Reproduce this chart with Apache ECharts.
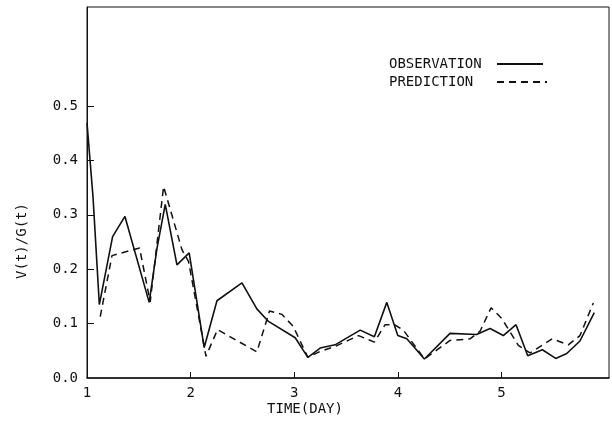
<!DOCTYPE html>
<html>
<head>
<meta charset="utf-8">
<script src="https://cdn.jsdelivr.net/npm/echarts@6/dist/echarts.min.js"></script>
<style>
html,body{margin:0;padding:0;background:#fff;}
#c{width:612px;height:431px;}
</style>
</head>
<body>
<div id="c"></div>
<script>
// Observation (solid)
const obsX = [1.00,1.058,1.119,1.247,1.366,1.60,1.675,1.755,1.868,1.986,2.131,2.254,2.495,2.639,2.751,3.009,3.131,3.25,3.394,3.636,3.773,3.893,3.999,4.086,4.256,4.503,4.76,4.889,5.017,5.14,5.253,5.394,5.523,5.629,5.757,5.895];
const obsY = [0.469,0.333,0.135,0.26,0.297,0.139,0.238,0.319,0.208,0.23,0.056,0.142,0.175,0.127,0.104,0.074,0.038,0.055,0.061,0.088,0.076,0.139,0.078,0.072,0.035,0.082,0.08,0.091,0.078,0.098,0.041,0.052,0.036,0.045,0.068,0.12];
// Prediction (dashed)
const predX = [1.128,1.241,1.507,1.61,1.739,1.916,1.98,2.148,2.26,2.639,2.761,2.88,2.99,3.131,3.25,3.394,3.62,3.773,3.877,3.966,4.053,4.256,4.503,4.696,4.793,4.899,5.0,5.162,5.275,5.49,5.644,5.757,5.886];
const predY = [0.113,0.225,0.239,0.14,0.352,0.236,0.214,0.04,0.089,0.048,0.123,0.117,0.095,0.038,0.049,0.058,0.078,0.066,0.098,0.098,0.088,0.035,0.069,0.072,0.086,0.129,0.11,0.06,0.046,0.072,0.061,0.078,0.138];
const xTickValues = [1,2,3,4,5];
const yTickValues = [0,0.1,0.2,0.3,0.4,0.5];
const seriesNames = ['OBSERVATION','PREDICTION'];
const xTitle = 'TIME(DAY)';
const yTitle = 'V(t)/G(t)';

const FONT = 'DejaVu Sans Mono';
const INK = '#111';
const DASH = [7, 5];
const zip = (xs, ys) => xs.map((x, i) => [x, ys[i]]);

const chart = echarts.init(document.getElementById('c'), null, {renderer: 'canvas'});
chart.setOption({
  animation: false,
  backgroundColor: '#fff',
  grid: {left: 87, right: 3, top: 7, bottom: 53, show: true, borderColor: INK, borderWidth: 1, backgroundColor: 'transparent'},
  xAxis: {
    type: 'value', min: 1, max: 6.037, interval: 1,
    axisLine: {show: true, lineStyle: {color: INK, width: 1.5}},
    axisTick: {show: true, inside: true, length: 6, lineStyle: {color: INK}, customValues: xTickValues.slice(1)},
    axisLabel: {fontFamily: FONT, fontSize: 14, color: INK, margin: 8, customValues: xTickValues, formatter: v => String(Math.round(v))},
    splitLine: {show: false}
  },
  yAxis: {
    type: 'value', min: 0, max: 0.682, interval: 0.1,
    axisLine: {show: true, lineStyle: {color: INK, width: 1}},
    axisTick: {show: true, inside: true, length: 7, lineStyle: {color: INK}, customValues: yTickValues.slice(1)},
    axisLabel: {fontFamily: FONT, fontSize: 14, color: INK, margin: 9, customValues: yTickValues, formatter: v => v.toFixed(1)},
    splitLine: {show: false}
  },
  graphic: [
    {type: 'text', left: 389, top: 57, style: {text: seriesNames[0], font: '14px "' + FONT + '"', fill: INK}},
    {type: 'text', left: 389, top: 75, style: {text: seriesNames[1], font: '14px "' + FONT + '"', fill: INK}},
    {type: 'line', shape: {x1: 497, y1: 64, x2: 543, y2: 64}, style: {stroke: INK, lineWidth: 2}},
    {type: 'line', shape: {x1: 497, y1: 82, x2: 547, y2: 82}, style: {stroke: INK, lineWidth: 2, lineDash: DASH}},
    {type: 'text', x: 305, y: 409, style: {text: xTitle, font: '14px "' + FONT + '"', fill: INK, align: 'center', verticalAlign: 'middle'}},
    {type: 'text', x: 22, y: 241, rotation: Math.PI / 2, style: {text: yTitle, font: '14px "' + FONT + '"', fill: INK, align: 'center', verticalAlign: 'middle'}}
  ],
  series: [
    {name: seriesNames[0], type: 'line', data: zip(obsX, obsY), symbol: 'none',
     lineStyle: {color: INK, width: 1.6, type: 'solid'}, itemStyle: {color: INK}},
    {name: seriesNames[1], type: 'line', data: zip(predX, predY), symbol: 'none',
     lineStyle: {color: INK, width: 1.5, type: DASH}, itemStyle: {color: INK}}
  ]
});
</script>
</body>
</html>
